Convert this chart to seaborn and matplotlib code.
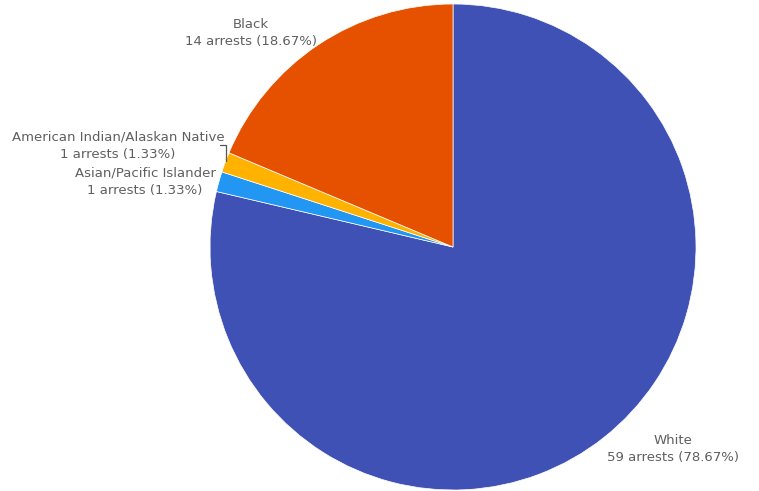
import matplotlib
matplotlib.use("Agg")
import matplotlib.pyplot as plt
import seaborn as sns

# Arrests by race
races = ["White", "Asian/Pacific Islander", "American Indian/Alaskan Native", "Black"]
arrests = [59, 1, 1, 14]
colors = ["#3F51B5", "#2196F3", "#FFB300", "#E65100"]

sns.set_theme(style="white")
plt.rcParams["font.family"] = ["DejaVu Sans"]

W, H = 759, 491
fig = plt.figure(figsize=(W / 100, H / 100), dpi=100)
ax = fig.add_axes([0, 0, 1, 1])

cx, cy, r = 453, H - 247, 243
ax.pie(arrests, colors=colors, startangle=90, counterclock=False,
       center=(cx, cy), radius=r, frame=True,
       wedgeprops=dict(edgecolor="white", linewidth=0.5))
ax.set_xlim(0, W)
ax.set_ylim(0, H)
ax.set_aspect("equal")
ax.axis("off")

total = sum(arrests)
label_pos = {
    "White": (673, H - 449),
    "Asian/Pacific Islander": (145, H - 182),
    "American Indian/Alaskan Native": (118, H - 146),
    "Black": (251, H - 33),
}
for name, n in zip(races, arrests):
    x, y = label_pos[name]
    ax.text(x, y, f"{name}\n{n} arrests ({n / total * 100:.2f}%)",
            ha="center", va="center", fontsize=9.5, color="#5f5f5f",
            linespacing=1.45)

# leader for the narrow American Indian/Alaskan Native slice
ax.plot([220, 226, 226], [H - 145, H - 145, H - 161], color="#555555", lw=0.9)

fig.savefig("out.png", dpi=100)
